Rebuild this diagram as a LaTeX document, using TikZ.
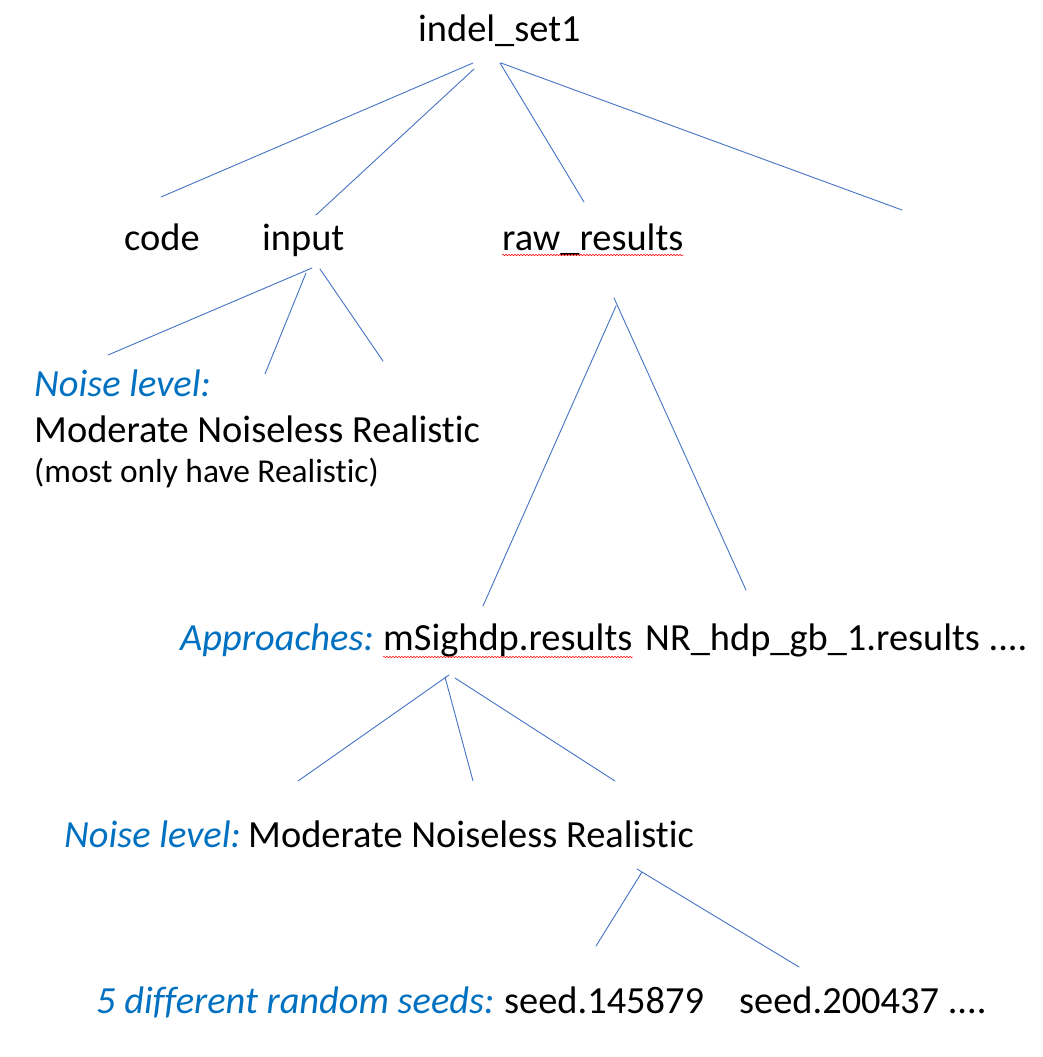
\documentclass[tikz,border=0pt]{standalone}
\usepackage{fontspec}
\setmainfont[Ligatures={NoCommon,NoRequired,NoContextual}, Contextuals=NoAlternate]{Carlito}
\usetikzlibrary{decorations.pathmorphing}
\definecolor{lineblue}{HTML}{4472C4}
\definecolor{textblue}{HTML}{0070C0}
\newcommand{\cat}[1]{\textcolor{textblue}{\itshape #1}}
\tikzset{
  branch/.style={draw=lineblue, line width=0.9pt},
  lbl/.style={anchor=base west, inner sep=0pt, font=\fontsize{38.4}{44}\selectfont},
  smalllbl/.style={anchor=base west, inner sep=0pt, font=\fontsize{33.4}{40}\selectfont},
  squiggle/.style={draw=red, line width=0.5pt, decorate, decoration={snake, amplitude=0.7pt, segment length=3pt}}
}
\begin{document}
\begin{tikzpicture}[x=1pt, y=-1pt, line cap=round]
	\useasboundingbox (0,0) rectangle (1043,1057);
	% text
	\node[lbl] (root) at (418,42) {indel\_set1};
	\node[lbl] (code) at (124,250) {code};
	\node[lbl] (input) at (262,250) {input};
	\node[lbl] (raw) at (502,250) {raw\_results};
	\node[lbl] (inlevel) at (34,396) {\cat{Noise level:}};
	\node[lbl] (inlist) at (34,442) {Moderate Noiseless Realistic};
	\node[smalllbl] (innote) at (34,482) {(most only have Realistic)};
	\node[lbl] (appr) at (180,650) {\cat{Approaches:}};
	\node[lbl] (msig) at (383,650) {mSighdp.results};
	\node[lbl] (nr) at (645,650) {NR\_hdp\_gb\_1.results ....};
	\node[lbl] (rlevel) at (64,847) {\cat{Noise level:}};
	\node[lbl] (rlist) at (248,847) {Moderate Noiseless Realistic};
	\node[lbl] (seeds) at (96,1013) {\cat{5 different random seeds:}};
	\node[lbl] (seedA) at (504,1013) {seed.145879};
	\node[lbl] (seedB) at (739,1013) {seed.200437 ....};
	% spell-check marks
	\draw[squiggle] ([yshift=-5pt]raw.base west) -- ([yshift=-5pt]raw.base east);
	\draw[squiggle] ([yshift=-7pt]msig.base west) -- ([yshift=-7pt]msig.base east);
	% branch ends
	\path (473,63) coordinate (r1) (474,69) coordinate (r2) (500,63) coordinate (r3) (501,63) coordinate (r4)
		(161,197) coordinate (r1e) (316,215) coordinate (r2e) (584,202) coordinate (r3e) (902,210) coordinate (r4e);
	\path (312,268) coordinate (i1) (306,273) coordinate (i2) (320,269) coordinate (i3)
		(108,355) coordinate (i1e) (265,374) coordinate (i2e) (383,361) coordinate (i3e);
	\path (616,306) coordinate (w1) (614,298) coordinate (w2)
		(483,606) coordinate (w1e) (746,590) coordinate (w2e);
	\path (449,675) coordinate (m1) (445,677) coordinate (m2) (455,678) coordinate (m3)
		(298,781) coordinate (m1e) (473,781) coordinate (m2e) (615,781) coordinate (m3e);
	\path (642,872) coordinate (n1) (637,869) coordinate (n2)
		(596,946) coordinate (n1e) (799,967) coordinate (n2e);
	% branches
	\draw[branch] (r1)--(r1e) (r2)--(r2e) (r3)--(r3e) (r4)--(r4e);
	\draw[branch] (i1)--(i1e) (i2)--(i2e) (i3)--(i3e);
	\draw[branch] (w1)--(w1e) (w2)--(w2e);
	\draw[branch] (m1)--(m1e) (m2)--(m2e) (m3)--(m3e);
	\draw[branch] (n1)--(n1e) (n2)--(n2e);
\end{tikzpicture}
\end{document}
